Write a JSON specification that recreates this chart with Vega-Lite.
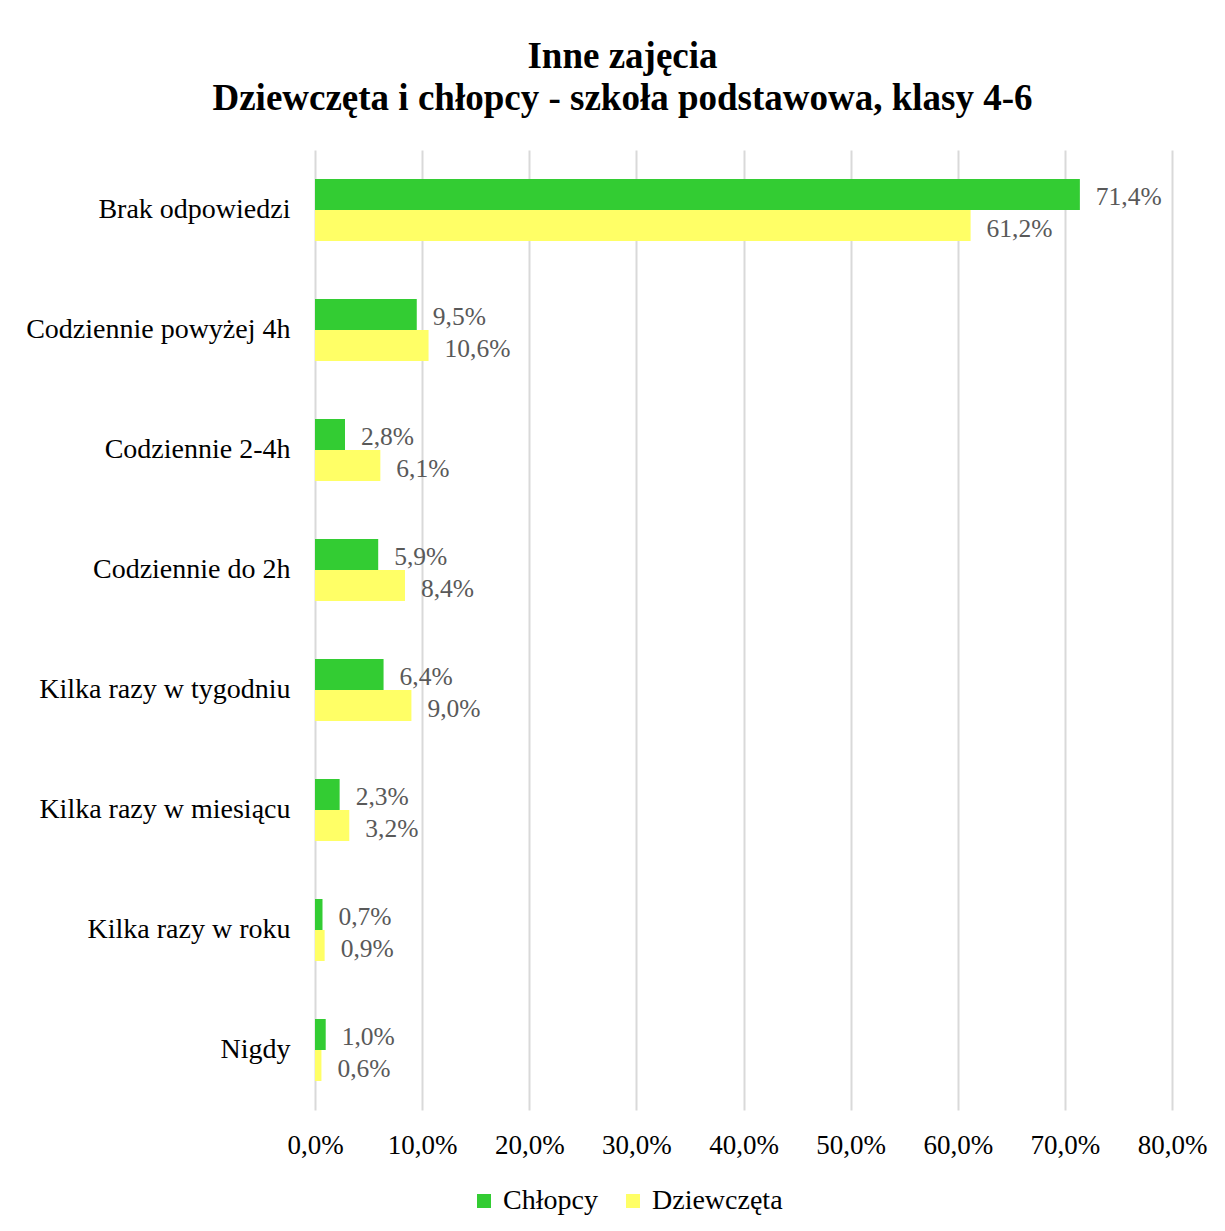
{
  "$schema": "https://vega.github.io/schema/vega-lite/v6.json",
  "autosize": "none",
  "width": 857,
  "height": 960,
  "padding": {"left": 315, "top": 150, "right": 53, "bottom": 121},
  "background": "white",
  "title": {
    "text": ["Inne zajęcia", "Dziewczęta i chłopcy - szkoła podstawowa, klasy 4-6"],
    "font": "Liberation Serif",
    "fontSize": 37,
    "fontWeight": "bold",
    "color": "#000000",
    "anchor": "middle",
    "dx": -121,
    "offset": 32,
    "lineHeight": 42
  },
  "config": {
    "locale": {
      "number": {"decimal": ",", "thousands": " ", "grouping": [3], "currency": ["", " zł"]}
    },
    "view": {"stroke": null},
    "font": "Liberation Serif"
  },
  "data": {
    "values": [
      {"kategoria": "Brak odpowiedzi", "grupa": "Chłopcy", "wartosc": 0.714},
      {"kategoria": "Brak odpowiedzi", "grupa": "Dziewczęta", "wartosc": 0.612},
      {"kategoria": "Codziennie powyżej 4h", "grupa": "Chłopcy", "wartosc": 0.095},
      {"kategoria": "Codziennie powyżej 4h", "grupa": "Dziewczęta", "wartosc": 0.106},
      {"kategoria": "Codziennie 2-4h", "grupa": "Chłopcy", "wartosc": 0.028},
      {"kategoria": "Codziennie 2-4h", "grupa": "Dziewczęta", "wartosc": 0.061},
      {"kategoria": "Codziennie do 2h", "grupa": "Chłopcy", "wartosc": 0.059},
      {"kategoria": "Codziennie do 2h", "grupa": "Dziewczęta", "wartosc": 0.084},
      {"kategoria": "Kilka razy w tygodniu", "grupa": "Chłopcy", "wartosc": 0.064},
      {"kategoria": "Kilka razy w tygodniu", "grupa": "Dziewczęta", "wartosc": 0.090},
      {"kategoria": "Kilka razy w miesiącu", "grupa": "Chłopcy", "wartosc": 0.023},
      {"kategoria": "Kilka razy w miesiącu", "grupa": "Dziewczęta", "wartosc": 0.032},
      {"kategoria": "Kilka razy w roku", "grupa": "Chłopcy", "wartosc": 0.007},
      {"kategoria": "Kilka razy w roku", "grupa": "Dziewczęta", "wartosc": 0.009},
      {"kategoria": "Nigdy", "grupa": "Chłopcy", "wartosc": 0.010},
      {"kategoria": "Nigdy", "grupa": "Dziewczęta", "wartosc": 0.006}
    ]
  },
  "encoding": {
    "y": {
      "field": "kategoria",
      "type": "nominal",
      "sort": null,
      "scale": {"paddingInner": 0.483, "paddingOuter": 0.2415},
      "axis": {
        "title": null,
        "ticks": false,
        "domain": false,
        "labelFont": "Liberation Serif",
        "labelFontSize": 28,
        "labelColor": "#000000",
        "labelPadding": 25,
        "labelLimit": 0
      }
    },
    "x": {
      "field": "wartosc",
      "type": "quantitative",
      "scale": {"domain": [0, 0.8], "nice": false},
      "axis": {
        "title": null,
        "format": ".1%",
        "values": [0, 0.1, 0.2, 0.3, 0.4, 0.5, 0.6, 0.7, 0.8],
        "ticks": false,
        "domain": false,
        "grid": true,
        "gridColor": "#d9d9d9",
        "gridWidth": 2,
        "labelFont": "Liberation Serif",
        "labelFontSize": 27,
        "labelColor": "#000000",
        "labelPadding": 22,
        "labelFlush": false,
        "labelOverlap": false
      }
    },
    "yOffset": {"field": "grupa", "type": "nominal", "sort": ["Chłopcy", "Dziewczęta"]}
  },
  "layer": [
    {
      "mark": {"type": "bar"},
      "encoding": {
        "color": {
          "field": "grupa",
          "type": "nominal",
          "sort": ["Chłopcy", "Dziewczęta"],
          "scale": {"domain": ["Chłopcy", "Dziewczęta"], "range": ["#33cc33", "#ffff66"]},
          "legend": {
            "title": null,
            "orient": "none",
            "direction": "horizontal",
            "legendX": 155,
            "legendY": 1037,
            "symbolType": "square",
            "symbolSize": 196,
            "symbolStrokeWidth": 0,
            "labelFont": "Liberation Serif",
            "labelFontSize": 28,
            "labelColor": "#000000",
            "labelOffset": 5,
            "columnPadding": 21,
            "padding": 0
          }
        }
      }
    },
    {
      "mark": {
        "type": "text",
        "align": "left",
        "baseline": "middle",
        "dx": 16,
        "dy": 3,
        "font": "Liberation Serif",
        "fontSize": 25.5,
        "color": "#595959"
      },
      "encoding": {
        "text": {"field": "wartosc", "type": "quantitative", "format": ".1%"}
      }
    }
  ]
}
